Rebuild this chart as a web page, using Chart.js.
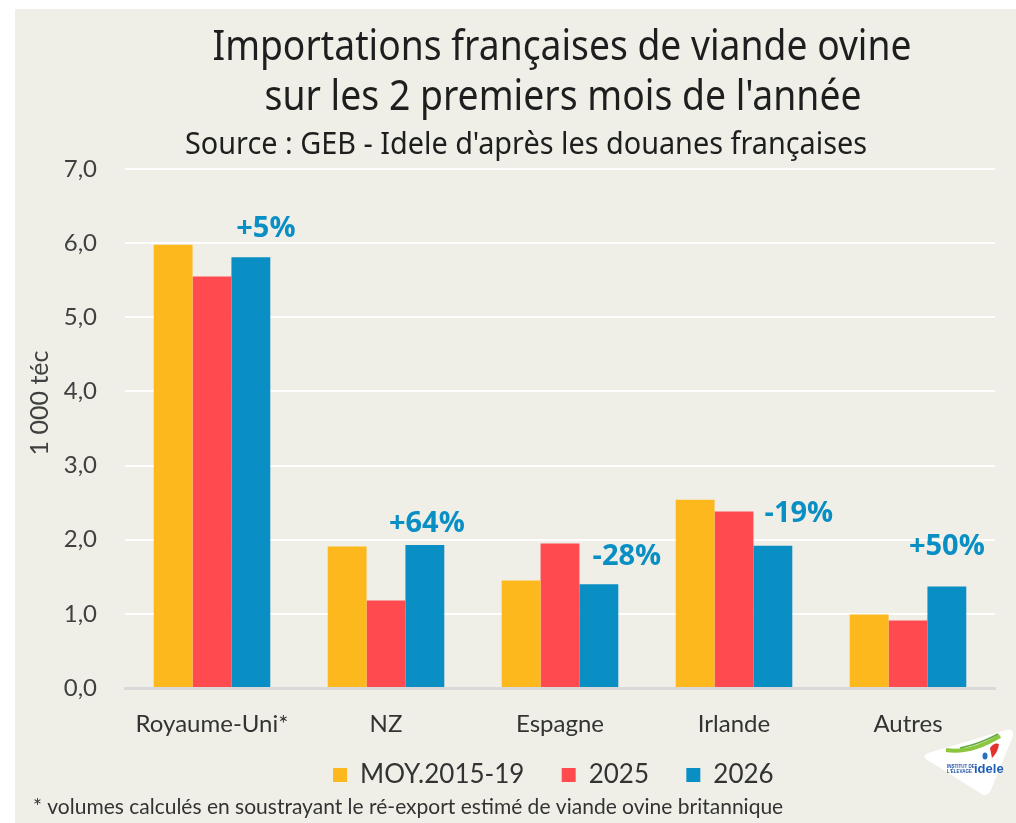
<!DOCTYPE html>
<html lang="fr">
<head>
<meta charset="utf-8">
<script src="https://cdn.jsdelivr.net/npm/chart.js@4"></script>
<style>
  html, body { margin: 0; padding: 0; background: #ffffff; }
  #wrap { position: relative; width: 1016px; height: 823px; }
  #logo { position: absolute; left: 920px; top: 726px; }
</style>
</head>
<body>
<div id="wrap">
  <canvas id="chart" width="1016" height="823"></canvas>
  <svg id="logo" width="96" height="72" viewBox="0 0 96 72">
    <path d="M6 33 Q2 30 8 27 L86 4 Q94 2 93 10 L70 66 Q66 72 60 67 Z" fill="#ffffff"/>
    <path d="M26 24 Q50 28 80 10" stroke="#8cc63f" stroke-width="4" fill="none"/>
    <path d="M40 22 Q60 18 78 8" stroke="#5fa83a" stroke-width="1.5" fill="none"/>
    <path d="M70 22 Q74 16 79 18 Q78 26 72 32 Z" fill="#e3312e"/>
    <ellipse cx="65" cy="30" rx="2.5" ry="3.5" fill="#2a6fc0"/>
    <text x="27" y="42" font-family="Liberation Sans" font-size="4.5" font-weight="bold" fill="#1f4fa0">INSTITUT DE</text>
    <text x="27" y="47" font-family="Liberation Sans" font-size="4.5" font-weight="bold" fill="#1f4fa0">L'ÉLEVAGE</text>
    <text x="54" y="47" font-family="Liberation Sans" font-size="13" font-weight="bold" fill="#1f5fb8">idele</text>
  </svg>
</div>
<script>
// données (1 000 téc)
const categories = ['Royaume-Uni*', 'NZ', 'Espagne', 'Irlande', 'Autres'];
const moy1519 = [5.98, 1.91, 1.45, 2.54, 0.99];
const val2025 = [5.55, 1.18, 1.95, 2.38, 0.91];
const val2026 = [5.81, 1.93, 1.40, 1.92, 1.37];
const variations = ['+5%', '+64%', '-28%', '-19%', '+50%'];
const labelShift = [[15, 28], [2, 21], [28, 27], [26, 32], [0, 40]];

const titleLines = ["Importations françaises de viande ovine", "sur les 2 premiers mois de l'année"];
const sourceText = "Source : GEB - Idele d'après les douanes françaises";
const yTitle = '1 000 téc';
const footnote = "* volumes calculés en soustrayant le ré-export estimé de viande ovine britannique";

const BG = '#efefe8';
const TXT = '#404040';

// fond + titres + note
const decor = {
    id: 'decor',
    beforeDraw(chart) {
        const c = chart.ctx;
        c.save();
        c.fillStyle = '#ffffff';
        c.fillRect(0, 0, chart.width, chart.height);
        c.fillStyle = BG;
        c.fillRect(15, 9, chart.width - 15, chart.height - 9);
        c.restore();
    },
    afterDraw(chart) {
        const c = chart.ctx;
        c.save();
        c.fillStyle = '#1e1e1e';
        c.textAlign = 'center';
        c.textBaseline = 'alphabetic';
        c.font = '42px "Noto Sans"';
        c.fillText(titleLines[0], 562, 60, 699);
        c.fillText(titleLines[1], 563, 110, 597);
        c.font = '30px "Noto Sans"';
        c.fillText(sourceText, 526, 154, 682);
        // titre de l'axe y
        c.save();
        c.translate(40, 403);
        c.rotate(-Math.PI / 2);
        c.textBaseline = 'middle';
        c.fillStyle = TXT;
        c.font = '25px Lato';
        c.fillText(yTitle, 0, 0);
        c.restore();
        c.textAlign = 'left';
        c.fillStyle = '#333333';
        c.font = '21px Lato';
        c.fillText(footnote, 33, 814, 850);
        c.restore();
    }
};

// étiquettes de variation au-dessus des barres 2026
const varLabels = {
    id: 'varLabels',
    afterDatasetsDraw(chart) {
        const c = chart.ctx;
        const meta = chart.getDatasetMeta(2);
        c.save();
        c.fillStyle = '#0a8fc5';
        c.font = 'bold 29px "Open Sans"';
        c.textAlign = 'center';
        c.textBaseline = 'middle';
        meta.data.forEach((bar, i) => {
            c.fillText(variations[i], bar.x + labelShift[i][0], bar.y - labelShift[i][1]);
        });
        c.restore();
    }
};

new Chart(document.getElementById('chart'), {
    type: 'bar',
    data: {
        labels: categories,
        datasets: [
            { label: 'MOY.2015-19', data: moy1519, backgroundColor: '#fdb81e' },
            { label: '2025', data: val2025, backgroundColor: '#ff4a4f' },
            { label: '2026', data: val2026, backgroundColor: '#0a8fc5' }
        ]
    },
    options: {
        responsive: false,
        animation: false,
        categoryPercentage: 0.67,
        barPercentage: 1.0,
        layout: { padding: { top: 169, left: 15, right: 21, bottom: 25 } },
        scales: {
            y: {
                min: 0, max: 7,
                ticks: {
                    stepSize: 1, padding: 28, color: TXT,
                    font: { family: 'Lato', size: 24 },
                    callback: v => v.toFixed(1).replace('.', ',')
                },
                grid: { color: '#ffffff', lineWidth: 2, drawTicks: false },
                border: { display: false },
                afterFit(scale) { scale.width = 110; }
            },
            x: {
                ticks: { color: '#333333', font: { family: 'Lato', size: 24 }, padding: 22 },
                grid: { display: false, drawTicks: false },
                border: { color: '#d9d9d9', width: 3 },
                afterFit(scale) { scale.height = 50; }
            }
        },
        plugins: {
            legend: {
                position: 'bottom',
                fullSize: false,
                labels: {
                    boxWidth: 14, boxHeight: 14, padding: 24, color: '#333333',
                    font: { family: 'Lato', size: 26 },
                    // un peu plus d'espace après chaque libellé
                    generateLabels(chart) {
                        const items = Chart.defaults.plugins.legend.labels.generateLabels(chart);
                        items.forEach(it => { it.text = it.text + '\u00a0\u00a0'; });
                        return items;
                    }
                }
            },
            tooltip: { enabled: false }
        }
    },
    plugins: [decor, varLabels]
});
</script>
</body>
</html>
